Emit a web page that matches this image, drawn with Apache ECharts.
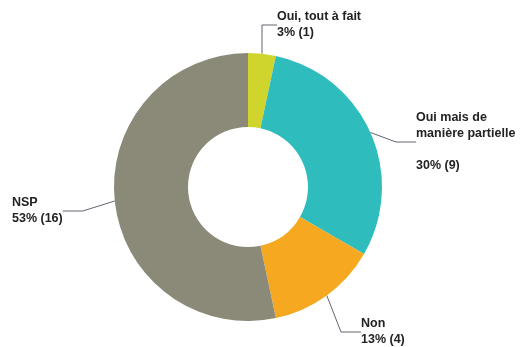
<!DOCTYPE html>
<html>
<head>
<meta charset="utf-8">
<script src="https://cdn.jsdelivr.net/npm/echarts@6/dist/echarts.min.js"></script>
<style>
  html, body { margin: 0; padding: 0; background: #ffffff; }
  #chart { width: 528px; height: 347px; }
</style>
</head>
<body>
<div id="chart"></div>
<script>
// Survey answers, in clockwise order starting at 12 o'clock
const categories = ['Oui, tout à fait', 'Oui mais de\nmanière partielle', 'Non', 'NSP'];
const counts = [1, 9, 4, 16];
const colors = ['#cfd52c', '#2fbcbd', '#f6a820', '#8b8a79'];

// Where each label block sits (top-left corner) and the gap before the percentage line
const labelSpots = [
  { x: 277, y: 9 },
  { x: 416, y: 110 },
  { x: 361, y: 316 },
  { x: 12, y: 195 }
];
const pctGap = ['\n', '\n\n', '\n', '\n'];

const chart = echarts.init(document.getElementById('chart'), null, { renderer: 'canvas' });

chart.setOption({
  animation: false,
  series: [{
    type: 'pie',
    center: [248, 187],
    radius: [60, 134],
    startAngle: 90,
    clockwise: true,
    avoidLabelOverlap: false,
    data: categories.map((name, i) => ({
      name: name,
      value: counts[i],
      itemStyle: { color: colors[i] }
    })),
    itemStyle: { borderWidth: 0 },
    label: {
      show: true,
      position: 'outside',
      fontFamily: 'Liberation Sans, Arial, sans-serif',
      fontWeight: 'bold',
      fontSize: 12.5,
      lineHeight: 16,
      color: '#222222',
      align: 'left',
      formatter: p => p.name + pctGap[p.dataIndex] + Math.round(p.percent) + '% (' + p.value + ')'
    },
    labelLine: {
      show: true,
      length: 10,
      length2: 20,
      lineStyle: { color: '#5f6670', width: 1 }
    },
    labelLayout: function (params) {
      const spot = labelSpots[params.dataIndex];
      return {
        x: spot.x,
        y: spot.y,
        align: 'left',
        verticalAlign: 'top'
      };
    },
    emphasis: { disabled: true }
  }]
});
</script>
</body>
</html>
